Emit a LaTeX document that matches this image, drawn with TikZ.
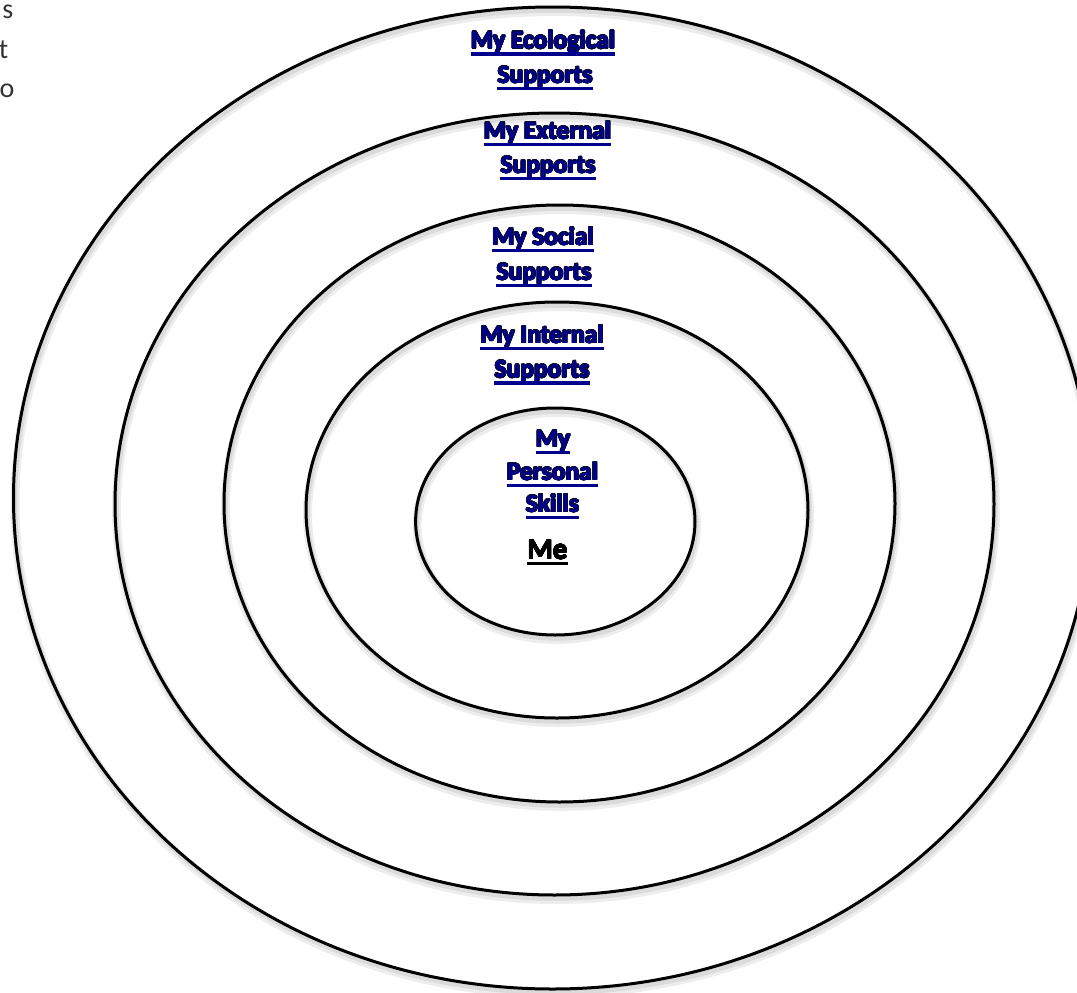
\documentclass[tikz,border=0pt]{standalone}
\usepackage{fontspec}
\setmainfont{Carlito}
\usepackage{contour}
\contourlength{0.75pt}
\contournumber{24}
\definecolor{navyt}{RGB}{0,0,140}
\definecolor{navyedge}{RGB}{10,10,60}
\newcommand\ulnode[2][ul]{\draw[#1] ([yshift=-5.5pt]#2.base west) -- ([yshift=-5.5pt]#2.base east);}
\newcommand\ctx[1]{\contour{navyedge}{#1}}
\begin{document}
\begin{tikzpicture}[x=1pt,y=-1pt,
  ring/.style={draw=black,line width=3pt},
  shadeA/.style={draw=black!7,line width=9pt},
  shadeB/.style={draw=black!14,line width=4.5pt},
  lbl/.style={inner sep=0pt,anchor=base,text=navyt,font=\fontsize{25.5}{30}\selectfont\bfseries},
  melbl/.style={inner sep=0pt,anchor=base,text=black,font=\fontsize{29}{32}\selectfont\bfseries},
  side/.style={inner sep=0pt,anchor=base east,text=black!80,font=\fontsize{28}{30}\selectfont},
  ul/.style={draw=navyt,line width=3.4pt},
  ulme/.style={draw=black,line width=2.2pt}]
\useasboundingbox (0,0) rectangle (1077,993);
\begin{scope}
\clip (0,0) rectangle (1077,993);
% shadows
\foreach \cx/\cy/\rx/\ry in {552.5/498/539/491, 554.5/504/439.5/391, 559.5/503.5/335.5/298.5, 557/510/251/208, 555.3/521.5/139.7/113.5}{
  \draw[shadeA] (\cx+1.5,\cy+4.5) ellipse [x radius=\rx pt, y radius=\ry pt];
  \draw[shadeB] (\cx+1.5,\cy+3.5) ellipse [x radius=\rx pt, y radius=\ry pt];
}
% rings
\draw[ring] (552.5,498) ellipse [x radius=539pt, y radius=491pt];
\draw[ring] (554.5,504) ellipse [x radius=439.5pt, y radius=391pt];
\draw[ring] (559.5,503.5) ellipse [x radius=335.5pt, y radius=298.5pt];
\draw[ring] (557,510) ellipse [x radius=251pt, y radius=208pt];
\draw[ring] (555.3,521.5) ellipse [x radius=139.7pt, y radius=113.5pt];
\end{scope}
% cut-off text at the left edge
\node[side] (s1) at (13.5,18) {s};
\node[side] (s2) at (8.5,58) {t};
\node[side] (s3) at (14.5,97) {o};
% labels
\node[lbl] (eco1) at (543,48.5) {\ctx{My Ecological}};
\node[lbl] (eco2) at (545,83) {\ctx{Supports}};
\node[lbl] (ext1) at (547.5,139) {\ctx{My External}};
\node[lbl] (ext2) at (548,173) {\ctx{Supports}};
\node[lbl] (soc1) at (543,245) {\ctx{My Social}};
\node[lbl] (soc2) at (544,280) {\ctx{Supports}};
\node[lbl] (int1) at (542,343) {\ctx{My Internal}};
\node[lbl] (int2) at (542,377.5) {\ctx{Supports}};
\node[lbl] (per1) at (553,447) {\ctx{My}};
\node[lbl] (per2) at (552.5,480) {\ctx{Personal}};
\node[lbl] (per3) at (552.5,512) {\ctx{Skills}};
\node[melbl] (me) at (547.5,559) {\contourlength{0.3pt}\contour{black}{Me}};
\foreach \n in {eco1,eco2,ext1,ext2,soc1,soc2,int1,int2,per1,per2,per3}{\ulnode{\n}}
\draw[ulme] ([yshift=-4.5pt]me.base west) -- ([yshift=-4.5pt]me.base east);
\end{tikzpicture}
\end{document}
